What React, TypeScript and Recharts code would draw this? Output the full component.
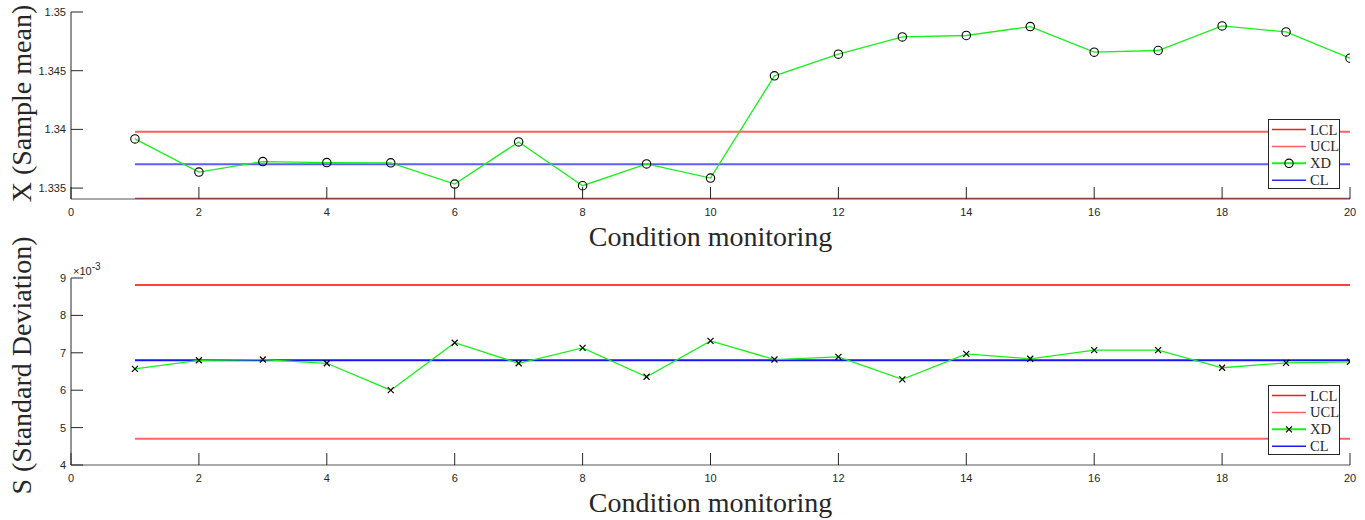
import React from 'react';
import { LineChart, Line, XAxis, YAxis, Label } from 'recharts';

// ---------- data ----------
const xValues = [1, 2, 3, 4, 5, 6, 7, 8, 9, 10, 11, 12, 13, 14, 15, 16, 17, 18, 19, 20];
const xTicks = [0, 2, 4, 6, 8, 10, 12, 14, 16, 18, 20];

const meanValues = [
  1.33919, 1.33636, 1.33726, 1.33717, 1.33715, 1.33534, 1.33893, 1.3352, 1.33706, 1.33585,
  1.34456, 1.34641, 1.34788, 1.348, 1.34876, 1.34658, 1.34672, 1.34881, 1.3483, 1.34607,
];
const meanLCL = 1.33409;
const meanUCL = 1.3398;
const meanCL = 1.33703;
const meanTicks = [1.335, 1.34, 1.345, 1.35];
const meanDomain = [1.33407, 1.35];

const sdValues = [
  0.00657, 0.0068, 0.00682, 0.00672, 0.006, 0.00727, 0.00672, 0.00713, 0.00636, 0.00732,
  0.00682, 0.00689, 0.00629, 0.00697, 0.00684, 0.00707, 0.00707, 0.0066, 0.00673, 0.00676,
];
const sdLCL = 0.00881;
const sdUCL = 0.0047;
const sdCL = 0.0068;
const sdTicks = [0.004, 0.005, 0.006, 0.007, 0.008, 0.009];
const sdDomain = [0.004, 0.009];

const legendNames = ['LCL', 'UCL', 'XD', 'CL'];

const meanData = xValues.map((x, i) => ({ x, lcl: meanLCL, ucl: meanUCL, xd: meanValues[i], cl: meanCL }));
const sdData = xValues.map((x, i) => ({ x, lcl: sdLCL, ucl: sdUCL, xd: sdValues[i], cl: sdCL }));

// ---------- styles ----------
const AXIS = '#262626';
const BOX = '#555555';
const TICK_LEN = 12;
const SANS = '"Liberation Sans", Arial, Helvetica, sans-serif';
const SERIF = '"Liberation Serif", "Times New Roman", Times, serif';
const GREEN = '#19f019';

const BottomTick = (props: any) => {
  const { x, y, payload } = props;
  return (
    <g>
      <line x1={x} y1={y} x2={x} y2={y - TICK_LEN} stroke={AXIS} strokeWidth={1} />
      <text x={x} y={y + 17} textAnchor="middle" fontFamily={SANS} fontSize={11} fill={AXIS}>
        {payload.value}
      </text>
    </g>
  );
};
const TopTick = (props: any) => {
  const { x, y } = props;
  return <line x1={x} y1={y} x2={x} y2={y + TICK_LEN} stroke={AXIS} strokeWidth={1} />;
};
const makeLeftTick = (fmt: (v: number) => string) => (props: any) => {
  const { x, y, payload } = props;
  return (
    <g>
      <line x1={x} y1={y} x2={x + TICK_LEN} y2={y} stroke={AXIS} strokeWidth={1} />
      <text x={x - 5} y={y + 4} textAnchor="end" fontFamily={SANS} fontSize={11} fill={AXIS}>
        {fmt(payload.value)}
      </text>
    </g>
  );
};
const RightTick = (props: any) => {
  const { x, y } = props;
  return <line x1={x} y1={y} x2={x - TICK_LEN} y2={y} stroke={AXIS} strokeWidth={1} />;
};

const CircleDot = (props: any) => {
  const { cx, cy, index } = props;
  if (cx == null || cy == null) return <g key={`c${index}`} />;
  return <circle key={`c${index}`} cx={cx} cy={cy} r={4.2} fill="none" stroke="#000" strokeWidth={1.1} />;
};
const CrossDot = (props: any) => {
  const { cx, cy, index } = props;
  if (cx == null || cy == null) return <g key={`x${index}`} />;
  const s = 3;
  return (
    <path
      key={`x${index}`}
      d={`M${cx - s},${cy - s}L${cx + s},${cy + s}M${cx - s},${cy + s}L${cx + s},${cy - s}`}
      stroke="#000"
      strokeWidth={1.2}
      fill="none"
    />
  );
};

const XTitle = (props: any) => {
  const vb = props.viewBox || { x: 71, y: 199, width: 1279 };
  return (
    <text x={vb.x + vb.width / 2} y={vb.y + 47} textAnchor="middle" fontFamily={SERIF} fontSize={28} fill={AXIS}>
      Condition monitoring
    </text>
  );
};
const makeYTitle = (title: string, shift: number) => (props: any) => {
  const vb = props.viewBox || { x: 0, y: 12, width: 71, height: 187 };
  const cy = vb.y + vb.height / 2 + shift;
  return (
    <text
      transform={`translate(31, ${cy}) rotate(-90)`}
      x={0}
      y={0}
      textAnchor="middle"
      fontFamily={SERIF}
      fontSize={28}
      fill={AXIS}
    >
      {title}
    </text>
  );
};
const Exponent = (props: any) => {
  const vb = props.viewBox || { x: 0, y: 18, width: 71, height: 187 };
  return (
    <text x={vb.x + vb.width + 2} y={vb.y - 3} fontFamily={SANS} fontSize={11} fill={AXIS}>
      ×10
      <tspan dy={-5} fontSize={10}>
        -3
      </tspan>
    </text>
  );
};

type ChartProps = {
  data: any[];
  domain: number[];
  ticks: number[];
  fmt: (v: number) => string;
  height: number;
  marginTop: number;
  xHeight: number;
  yTitle: string;
  yShift: number;
  colors: { lcl: string; ucl: string; cl: string };
  widths: { lcl: number; ucl: number; cl: number };
  dot: any;
  exponent?: boolean;
};

function ControlChart(p: ChartProps) {
  return (
    <LineChart width={1365} height={p.height} data={p.data} margin={{ top: p.marginTop, right: 15, bottom: 0, left: 0 }}>
      <XAxis
        xAxisId="b"
        dataKey="x"
        type="number"
        domain={[0, 20]}
        ticks={xTicks}
        interval={0}
        tickSize={0}
        tickMargin={0}
        tickLine={false}
        axisLine={{ stroke: BOX }}
        height={p.xHeight}
        tick={(t: any) => <BottomTick {...t} />}
        allowDataOverflow
      >
        <Label content={(lp: any) => <XTitle {...lp} />} />
      </XAxis>
      <XAxis
        xAxisId="t"
        orientation="top"
        dataKey="x"
        type="number"
        domain={[0, 20]}
        ticks={xTicks}
        interval={0}
        tickSize={0}
        tickMargin={0}
        tickLine={false}
        axisLine={{ stroke: BOX }}
        height={0}
        tick={(t: any) => <TopTick {...t} />}
        allowDataOverflow
      />
      <YAxis
        yAxisId="l"
        type="number"
        domain={p.domain}
        ticks={p.ticks}
        interval={0}
        tickSize={0}
        tickMargin={0}
        tickLine={false}
        axisLine={{ stroke: AXIS }}
        width={71}
        tick={makeLeftTick(p.fmt)}
        allowDataOverflow
      >
        <Label content={makeYTitle(p.yTitle, p.yShift)} />
        {p.exponent ? <Label content={(lp: any) => <Exponent {...lp} />} /> : null}
      </YAxis>
      <YAxis
        yAxisId="r"
        orientation="right"
        type="number"
        domain={p.domain}
        ticks={p.ticks}
        interval={0}
        tickSize={0}
        tickMargin={0}
        tickLine={false}
        axisLine={{ stroke: AXIS }}
        width={0}
        tick={(t: any) => <RightTick {...t} />}
        allowDataOverflow
      />
      <Line xAxisId="b" yAxisId="l" dataKey="lcl" stroke={p.colors.lcl} strokeWidth={p.widths.lcl} dot={false} isAnimationActive={false} />
      <Line xAxisId="b" yAxisId="l" dataKey="ucl" stroke={p.colors.ucl} strokeWidth={p.widths.ucl} dot={false} isAnimationActive={false} />
      <Line xAxisId="b" yAxisId="l" dataKey="cl" stroke={p.colors.cl} strokeWidth={p.widths.cl} dot={false} isAnimationActive={false} />
      <Line
        xAxisId="b"
        yAxisId="l"
        dataKey="xd"
        type="linear"
        stroke={GREEN}
        strokeWidth={1.3}
        dot={p.dot}
        activeDot={false}
        isAnimationActive={false}
      />
    </LineChart>
  );
}

function LegendBox({ top, marker, colors }: { top: number; marker: 'circle' | 'cross'; colors: string[] }) {
  return (
    <div
      style={{
        position: 'absolute',
        left: 1268,
        top,
        width: 72,
        height: 70,
        border: `1px solid ${AXIS}`,
        background: '#fff',
        boxSizing: 'border-box',
      }}
    >
      <svg width={70} height={68} style={{ display: 'block' }}>
        {legendNames.map((name, i) => {
          const cy = 9.5 + i * 16.9;
          return (
            <g key={name}>
              <line x1={3} y1={cy} x2={37} y2={cy} stroke={colors[i]} strokeWidth={i === 2 ? 2 : 1.5} />
              {i === 2 && marker === 'circle' ? (
                <circle cx={20} cy={cy} r={4.2} fill="none" stroke="#000" strokeWidth={1.1} />
              ) : null}
              {i === 2 && marker === 'cross' ? (
                <path d={`M17,${cy - 3}L23,${cy + 3}M17,${cy + 3}L23,${cy - 3}`} stroke="#000" strokeWidth={1.2} />
              ) : null}
              <text x={41} y={cy + 5} fontFamily={SERIF} fontSize={14.5} fill={AXIS}>
                {name}
              </text>
            </g>
          );
        })}
      </svg>
    </div>
  );
}

export default function App() {
  return (
    <div style={{ position: 'absolute', left: 0, top: 0, width: 1365, height: 520, background: '#fff', overflow: 'hidden' }}>
      <div style={{ position: 'absolute', left: 0, top: 0 }}>
        <ControlChart
          data={meanData}
          domain={meanDomain}
          ticks={meanTicks}
          fmt={(v) => String(v)}
          height={260}
          marginTop={12}
          xHeight={61}
          yTitle="X (Sample mean)"
          yShift={-2}
          colors={{ lcl: '#d42a2a', ucl: '#ff5f5f', cl: '#5c5cff' }}
          widths={{ lcl: 2, ucl: 2, cl: 2 }}
          dot={CircleDot}
        />
      </div>
      <div style={{ position: 'absolute', left: 0, top: 225 }}>
        <ControlChart
          data={sdData}
          domain={sdDomain}
          ticks={sdTicks}
          fmt={(v) => (v * 1000).toFixed(0)}
          height={295}
          marginTop={53}
          xHeight={55}
          yTitle="S (Standard Deviation)"
          yShift={-6}
          colors={{ lcl: '#ff0000', ucl: '#ff6464', cl: '#1414ff' }}
          widths={{ lcl: 1.5, ucl: 2, cl: 2 }}
          dot={CrossDot}
          exponent
        />
      </div>
      <LegendBox top={119} marker="circle" colors={['#ff1a1a', '#ff6262', GREEN, '#2a2aff']} />
      <LegendBox top={385} marker="cross" colors={['#ff1a1a', '#ff6262', GREEN, '#1a1aff']} />
    </div>
  );
}
